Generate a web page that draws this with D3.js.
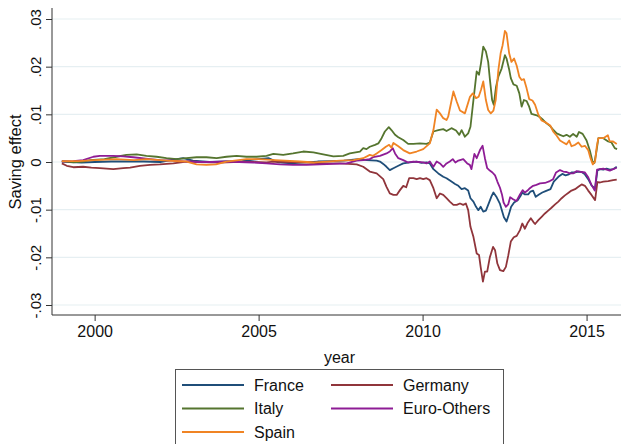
<!DOCTYPE html>
<html>
<head>
<meta charset="utf-8">
<script src="https://cdn.jsdelivr.net/npm/d3@7"></script>
<style>
  body { margin: 0; background: #fff; }
  svg { display: block; font-family: "Liberation Sans", Arial, sans-serif; }
</style>
</head>
<body>
<div id="chart"></div>
<script>
// series: [decimal year, saving effect]
const france = [
  [1999.0,.0002],[1999.3,0],[1999.6,-.0001],[2000.0,0],[2000.5,.0001],[2001.0,.0001],[2001.5,.0001],[2002.0,0],
  [2002.4,.0005],[2002.7,.0008],[2003.0,.0003],[2003.5,0],[2004.0,.0001],[2004.5,.0002],[2005.0,.0006],[2005.3,.0008],
  [2005.6,-.0001],[2006.0,-.0003],[2006.4,-.0001],[2006.8,.0001],[2007.2,.0002],[2007.6,.0003],[2008.04,.0006],[2008.3,.0004],
  [2008.6,.0003],[2008.7,.0001],[2008.8,-.0004],[2008.9,-.001],[2009.0,-.0017],[2009.11,-.0013],[2009.26,-.0008],[2009.41,-.0003],
  [2009.61,-.0001],[2009.82,.0001],[2009.97,-.0002],[2010.12,-.0001],[2010.22,-.0003],[2010.33,-.0015],[2010.48,-.0024],[2010.63,-.0031],
  [2010.73,-.0034],[2010.88,-.0041],[2010.99,-.0046],[2011.09,-.005],[2011.19,-.0057],[2011.29,-.0055],[2011.39,-.006],[2011.46,-.0076],
  [2011.55,-.0083],[2011.63,-.0094],[2011.7,-.0101],[2011.77,-.0094],[2011.85,-.0104],[2011.93,-.0102],[2012.0,-.009],[2012.1,-.0072],
  [2012.16,-.0064],[2012.26,-.0074],[2012.36,-.0088],[2012.48,-.0116],[2012.56,-.0125],[2012.63,-.011],[2012.7,-.0094],[2012.79,-.0085],
  [2012.9,-.008],[2012.98,-.0072],[2013.04,-.0064],[2013.12,-.0068],[2013.22,-.0068],[2013.29,-.0062],[2013.37,-.006],[2013.45,-.0073],
  [2013.55,-.0068],[2013.65,-.0064],[2013.75,-.0061],[2013.9,-.0057],[2014.0,-.0041],[2014.14,-.0031],[2014.26,-.0025],[2014.36,-.0028],
  [2014.46,-.0026],[2014.54,-.0022],[2014.65,-.0022],[2014.75,-.002],[2014.85,-.0021],[2014.95,-.0026],[2015.05,-.0036],[2015.15,-.0049],
  [2015.26,-.0056],[2015.33,-.0018],[2015.41,-.0015],[2015.51,-.0016],[2015.61,-.0014],[2015.71,-.0016],[2015.81,-.0015],[2015.92,-.001]
];
const germany = [
  [1999.0,-.0003],[1999.15,-.0008],[1999.35,-.0011],[1999.65,-.001],[1999.9,-.0012],[2000.16,-.0013],[2000.57,-.0015],[2000.87,-.0013],
  [2001.08,-.0012],[2001.38,-.0008],[2001.69,-.0006],[2001.99,-.0005],[2002.4,-.0003],[2002.8,.0001],[2003.21,0],[2003.82,-.0001],
  [2004.23,0],[2004.84,0],[2005.24,-.0001],[2005.45,.0001],[2005.95,0],[2006.46,-.0001],[2006.97,-.0003],[2007.48,-.0003],
  [2007.99,-.0005],[2008.19,-.001],[2008.39,-.002],[2008.6,-.0024],[2008.8,-.0036],[2008.9,-.0052],[2009.0,-.0066],[2009.11,-.0069],
  [2009.21,-.0069],[2009.31,-.0059],[2009.41,-.005],[2009.5,-.0053],[2009.59,-.0034],[2009.72,-.0034],[2009.82,-.0036],[2009.92,-.0034],
  [2010.02,-.0036],[2010.12,-.0034],[2010.22,-.0038],[2010.33,-.0055],[2010.43,-.0076],[2010.53,-.0066],[2010.63,-.0069],[2010.73,-.0076],
  [2010.83,-.0083],[2010.94,-.009],[2011.04,-.009],[2011.14,-.0087],[2011.24,-.009],[2011.32,-.0087],[2011.39,-.0101],[2011.46,-.0136],
  [2011.55,-.0157],[2011.65,-.0192],[2011.72,-.0195],[2011.77,-.022],[2011.84,-.0251],[2011.9,-.023],[2011.97,-.023],[2012.05,-.02],
  [2012.15,-.0178],[2012.21,-.0185],[2012.28,-.0213],[2012.36,-.0227],[2012.46,-.0229],[2012.54,-.022],[2012.61,-.0197],[2012.69,-.0167],
  [2012.78,-.0158],[2012.87,-.0155],[2012.97,-.0143],[2013.04,-.0129],[2013.12,-.014],[2013.2,-.0128],[2013.3,-.0118],[2013.38,-.0126],
  [2013.43,-.013],[2013.53,-.0122],[2013.63,-.0115],[2013.73,-.0108],[2013.83,-.0102],[2013.93,-.0096],[2014.04,-.0089],[2014.14,-.0083],
  [2014.24,-.0076],[2014.34,-.007],[2014.44,-.0065],[2014.54,-.006],[2014.65,-.0057],[2014.75,-.0052],[2014.85,-.0047],[2014.95,-.005],
  [2015.05,-.006],[2015.15,-.0069],[2015.26,-.008],[2015.33,-.0042],[2015.41,-.0043],[2015.51,-.0041],[2015.66,-.004],[2015.81,-.0038],
  [2015.92,-.0037]
];
const italy = [
  [1999.0,.0001],[1999.35,-.0001],[1999.65,.0001],[1999.86,.0004],[2000.3,.0006],[2000.67,.0011],[2000.97,.0015],[2001.28,.0016],
  [2001.58,.0013],[2001.89,.0011],[2002.19,.0008],[2002.5,.0006],[2002.8,.0008],[2003.11,.001],[2003.41,.001],[2003.72,.0008],
  [2004.02,.0011],[2004.33,.0013],[2004.63,.0011],[2004.94,.0011],[2005.24,.0013],[2005.45,.0017],[2005.75,.0015],[2006.05,.0018],
  [2006.36,.0022],[2006.67,.002],[2006.97,.0016],[2007.28,.0012],[2007.58,.0013],[2007.78,.0018],[2008.09,.0022],[2008.19,.0029],
  [2008.29,.0027],[2008.39,.0032],[2008.55,.0036],[2008.65,.0039],[2008.75,.005],[2008.85,.0064],[2008.97,.0073],[2009.05,.0067],
  [2009.16,.0057],[2009.26,.0052],[2009.41,.0046],[2009.56,.0038],[2009.72,.0038],[2009.92,.0039],[2010.12,.0038],[2010.22,.0041],
  [2010.33,.0064],[2010.48,.0067],[2010.63,.0069],[2010.73,.0065],[2010.88,.0071],[2011.02,.0066],[2011.12,.0057],[2011.19,.0067],
  [2011.29,.0053],[2011.39,.006],[2011.46,.0074],[2011.55,.013],[2011.65,.019],[2011.72,.0183],[2011.78,.0207],[2011.85,.0242],
  [2011.93,.0232],[2012.0,.021],[2012.05,.0175],[2012.12,.013],[2012.17,.012],[2012.24,.0158],[2012.31,.0179],[2012.41,.0196],
  [2012.51,.0224],[2012.56,.0217],[2012.64,.0194],[2012.69,.0176],[2012.77,.0163],[2012.87,.016],[2012.95,.0144],[2013.02,.0116],
  [2013.09,.013],[2013.17,.0128],[2013.25,.0116],[2013.32,.0101],[2013.48,.0098],[2013.58,.0094],[2013.68,.0088],[2013.78,.0081],
  [2013.88,.0076],[2013.98,.0068],[2014.09,.006],[2014.19,.0057],[2014.29,.0054],[2014.39,.0057],[2014.49,.0053],[2014.59,.0059],
  [2014.7,.0053],[2014.77,.0063],[2014.88,.0059],[2015.0,.0045],[2015.1,.0024],[2015.18,.0001],[2015.24,-.0002],[2015.3,.0022],
  [2015.36,.005],[2015.51,.005],[2015.66,.0043],[2015.76,.0041],[2015.86,.0029],[2015.93,.0027]
];
const euroOthers = [
  [1999.0,.0001],[1999.35,.0002],[1999.65,.0004],[1999.96,.0011],[2000.16,.0013],[2000.57,.0013],[2000.87,.0012],[2001.18,.001],
  [2001.69,.0006],[2002.0,.0004],[2002.4,.0003],[2002.8,.0001],[2003.2,0],[2003.6,0],[2004.02,.0001],[2004.4,0],
  [2004.84,-.0001],[2005.24,-.0003],[2005.65,-.0005],[2006.05,-.0006],[2006.46,-.0006],[2006.87,-.0005],[2007.28,-.0004],[2007.68,-.0003],
  [2007.99,.0003],[2008.19,.0004],[2008.39,.0006],[2008.49,.001],[2008.7,.0013],[2008.9,.0018],[2009.0,.0022],[2009.09,.0029],
  [2009.16,.0018],[2009.26,.0008],[2009.41,.0004],[2009.56,-.0001],[2009.72,.0001],[2009.87,0],[2010.02,-.0001],[2010.12,-.0003],
  [2010.22,.0001],[2010.33,-.001],[2010.43,.0001],[2010.53,-.0003],[2010.63,-.001],[2010.73,-.0003],[2010.83,.0001],[2010.92,.0006],
  [2011.0,-.0001],[2011.09,.0003],[2011.24,.0006],[2011.36,-.0003],[2011.44,-.0006],[2011.49,-.0015],[2011.58,.0017],[2011.65,.0008],
  [2011.75,.0025],[2011.83,.0034],[2011.9,.0008],[2011.97,-.0013],[2012.05,-.0018],[2012.13,-.0022],[2012.21,-.0028],[2012.28,-.0041],
  [2012.36,-.0054],[2012.42,-.0068],[2012.47,-.0085],[2012.54,-.0094],[2012.61,-.0089],[2012.67,-.0074],[2012.76,-.0078],[2012.86,-.0082],
  [2012.97,-.0068],[2013.05,-.0059],[2013.12,-.0064],[2013.2,-.006],[2013.27,-.0055],[2013.37,-.005],[2013.47,-.0048],[2013.58,-.0045],
  [2013.73,-.0044],[2013.88,-.004],[2013.98,-.0036],[2014.07,-.0022],[2014.19,-.0017],[2014.29,-.002],[2014.39,-.0021],[2014.49,-.0024],
  [2014.59,-.0024],[2014.7,-.0019],[2014.85,-.0021],[2014.95,-.0022],[2015.05,-.0032],[2015.15,-.0048],[2015.25,-.006],[2015.32,-.0016],
  [2015.41,-.0015],[2015.51,-.0014],[2015.61,-.0016],[2015.71,-.0018],[2015.81,-.0015],[2015.92,-.0012]
];
const spain = [
  [1999.0,.0002],[1999.5,.0002],[2000.0,.0004],[2000.67,.0006],[2001.2,.0004],[2001.58,.0006],[2002.2,.0003],[2002.8,.0001],
  [2003.11,-.0005],[2003.41,-.0006],[2003.7,-.0005],[2004.02,.0001],[2004.63,.0006],[2005.0,.0006],[2005.5,.0004],[2006.26,.0001],
  [2006.7,-.0001],[2007.07,.0001],[2007.48,.0003],[2007.89,.0004],[2008.19,.0008],[2008.39,.0015],[2008.49,.0013],[2008.6,.0018],
  [2008.75,.0025],[2008.88,.0032],[2008.98,.0036],[2009.05,.003],[2009.11,.004],[2009.26,.0033],[2009.41,.0025],[2009.61,.0018],
  [2009.82,.0022],[2010.02,.0027],[2010.22,.0039],[2010.33,.0067],[2010.43,.011],[2010.53,.0102],[2010.63,.0092],[2010.73,.0088],
  [2010.78,.0095],[2010.94,.0148],[2011.04,.0127],[2011.14,.0108],[2011.29,.0102],[2011.44,.0136],[2011.53,.0144],[2011.63,.0134],
  [2011.71,.0137],[2011.78,.0151],[2011.85,.0169],[2011.93,.013],[2012.0,.0109],[2012.08,.0102],[2012.16,.0108],[2012.23,.013],
  [2012.31,.0193],[2012.38,.0228],[2012.44,.0245],[2012.51,.0275],[2012.56,.027],[2012.64,.0228],[2012.71,.021],[2012.79,.0217],
  [2012.87,.0202],[2012.95,.0179],[2013.02,.0172],[2013.09,.0174],[2013.17,.0155],[2013.25,.0132],[2013.35,.0129],[2013.43,.012],
  [2013.53,.0099],[2013.63,.0087],[2013.78,.0082],[2013.9,.0076],[2013.98,.0064],[2014.09,.0055],[2014.19,.0045],[2014.29,.0041],
  [2014.39,.0037],[2014.47,.0045],[2014.54,.0033],[2014.65,.0036],[2014.75,.0041],[2014.85,.0032],[2014.95,.0034],[2015.05,.0025],
  [2015.12,.0008],[2015.19,-.0005],[2015.26,.0001],[2015.31,.0032],[2015.36,.005],[2015.51,.005],[2015.65,.0056],[2015.7,.0044],
  [2015.81,.0043],[2015.92,.0038]
];

const yTicks = [-.03, -.02, -.01, 0, .01, .02, .03];
const yTickLabels = ["-.03", "-.02", "-.01", "0", ".01", ".02", ".03"];
const xTicks = [2000, 2005, 2010, 2015];

const seriesNames = ["France", "Germany", "Italy", "Euro-Others", "Spain"];
const seriesData = [france, germany, italy, euroOthers, spain];
const seriesColors = ["#1f4e79", "#90353b", "#55752f", "#8e1c95", "#f08424"];

const width = 621, height = 444;
const plot = { left: 52, right: 621, top: 8, bottom: 315 };

const svg = d3.select('#chart').append('svg')
  .attr('width', width)
  .attr('height', height);

const x = d3.scaleLinear()
  .domain([1998.7, 2016.05])
  .range([plot.left, plot.right]);

const y = d3.scaleLinear()
  .domain([-.03, .03])
  .range([305, 19]);

// gridlines
svg.append('g')
  .selectAll('line')
  .data(yTicks)
  .enter()
  .append('line')
  .attr('x1', plot.left)
  .attr('x2', plot.right)
  .attr('y1', d => y(d))
  .attr('y2', d => y(d))
  .attr('stroke', '#e6eff2')
  .attr('stroke-width', 1.2);

// y axis
const yAxis = svg.append('g')
  .attr('transform', `translate(${plot.left},0)`)
  .call(d3.axisLeft(y).tickValues(yTicks).tickSize(6).tickFormat((d, i) => yTickLabels[i]));
yAxis.select('.domain').remove();
yAxis.append('line')
  .attr('x1', 0).attr('x2', 0)
  .attr('y1', plot.top).attr('y2', plot.bottom)
  .attr('stroke', '#333');
yAxis.selectAll('.tick line').attr('stroke', '#333');
yAxis.selectAll('.tick text')
  .attr('font-size', 15)
  .attr('fill', '#111')
  .attr('text-anchor', 'middle')
  .attr('x', 0)
  .attr('dy', 0)
  .attr('transform', 'translate(-11,0) rotate(-90)');

// x axis
const xAxis = svg.append('g')
  .attr('transform', `translate(0,${plot.bottom})`)
  .call(d3.axisBottom(x).tickValues(xTicks).tickSize(6).tickFormat(d3.format('d')));
xAxis.select('.domain').remove();
xAxis.append('line')
  .attr('x1', plot.left).attr('x2', plot.right)
  .attr('y1', 0).attr('y2', 0)
  .attr('stroke', '#333');
xAxis.selectAll('.tick line').attr('stroke', '#333');
xAxis.selectAll('.tick text')
  .attr('font-size', 16)
  .attr('fill', '#111')
  .attr('y', 11);

// axis titles
svg.append('text')
  .attr('transform', `translate(21,${y(0)}) rotate(-90)`)
  .attr('text-anchor', 'middle')
  .attr('font-size', 16.5)
  .attr('fill', '#111')
  .text('Saving effect');

svg.append('text')
  .attr('x', (plot.left + plot.right) / 2 + 3)
  .attr('y', 363)
  .attr('text-anchor', 'middle')
  .attr('font-size', 16)
  .attr('fill', '#111')
  .text('year');

// lines
const line = d3.line()
  .x(d => x(d[0]))
  .y(d => y(d[1]));

svg.append('g')
  .selectAll('path')
  .data(seriesData)
  .enter()
  .append('path')
  .attr('d', line)
  .attr('fill', 'none')
  .attr('stroke', (d, i) => seriesColors[i])
  .attr('stroke-width', 1.8)
  .attr('stroke-linejoin', 'round');

// legend
const legend = svg.append('g');
legend.append('rect')
  .attr('x', 175.5)
  .attr('y', 369.5)
  .attr('width', 328)
  .attr('height', 90)
  .attr('fill', '#fff')
  .attr('stroke', '#555');

const legendItems = legend.selectAll('g.item')
  .data(seriesNames)
  .enter()
  .append('g')
  .attr('class', 'item')
  .attr('transform', (d, i) => `translate(${i % 2 === 0 ? 182 : 331},${385 + Math.floor(i / 2) * 23.5})`);

legendItems.append('line')
  .attr('x1', 0).attr('x2', 62)
  .attr('stroke', (d, i) => seriesColors[i])
  .attr('stroke-width', 1.8);

legendItems.append('text')
  .attr('x', 72)
  .attr('dy', '0.35em')
  .attr('font-size', 16)
  .attr('fill', '#111')
  .text(d => d);
</script>
</body>
</html>
